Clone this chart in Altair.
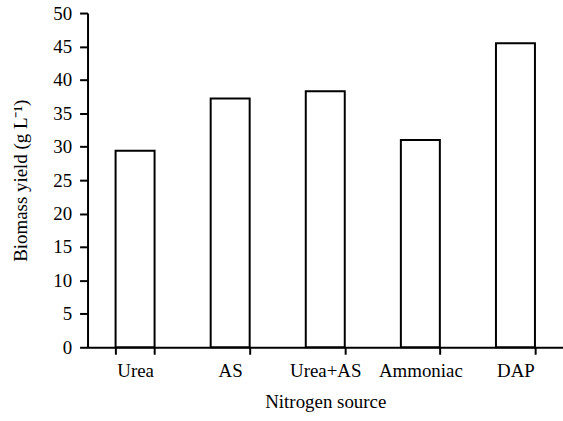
import altair as alt
import pandas as pd

categories = ["Urea", "AS", "Urea+AS", "Ammoniac", "DAP"]
values = [29.4, 37.2, 38.3, 31.0, 45.5]

df = pd.DataFrame({"source": categories, "yield": values})

FONT = "Liberation Serif"
common = dict(
    domainColor="black", domainWidth=2, tickColor="black", tickWidth=2,
    labelFont=FONT, titleFont=FONT, labelFontSize=19, titleFontSize=19,
    labelColor="black", titleColor="black", titleFontWeight="normal", grid=False,
)

chart = alt.Chart(df).mark_bar(
    fill="white", stroke="black", strokeWidth=2
).encode(
    x=alt.X("source:N", sort=categories,
            scale=alt.Scale(paddingInner=0.59, paddingOuter=0.295),
            axis=alt.Axis(title="Nitrogen source", labelAngle=0, tickBand="extent",
                          labelPadding=7, titlePadding=13, tickSize=7, **common)),
    y=alt.Y("yield:Q", scale=alt.Scale(domain=[0, 50]),
            axis=alt.Axis(title="Biomass yield (g L\u207b\u00b9)", values=list(range(0, 55, 5)),
                          tickSize=8, labelPadding=8, titlePadding=22, **common)),
).properties(
    width=478, height=336,
    padding={"left": 88, "top": 12, "right": 0, "bottom": 73},
    autosize=alt.AutoSizeParams(type="none"),
).configure_view(stroke=None)

chart.save("out.html", embed_options={"renderer": "svg", "actions": False})
